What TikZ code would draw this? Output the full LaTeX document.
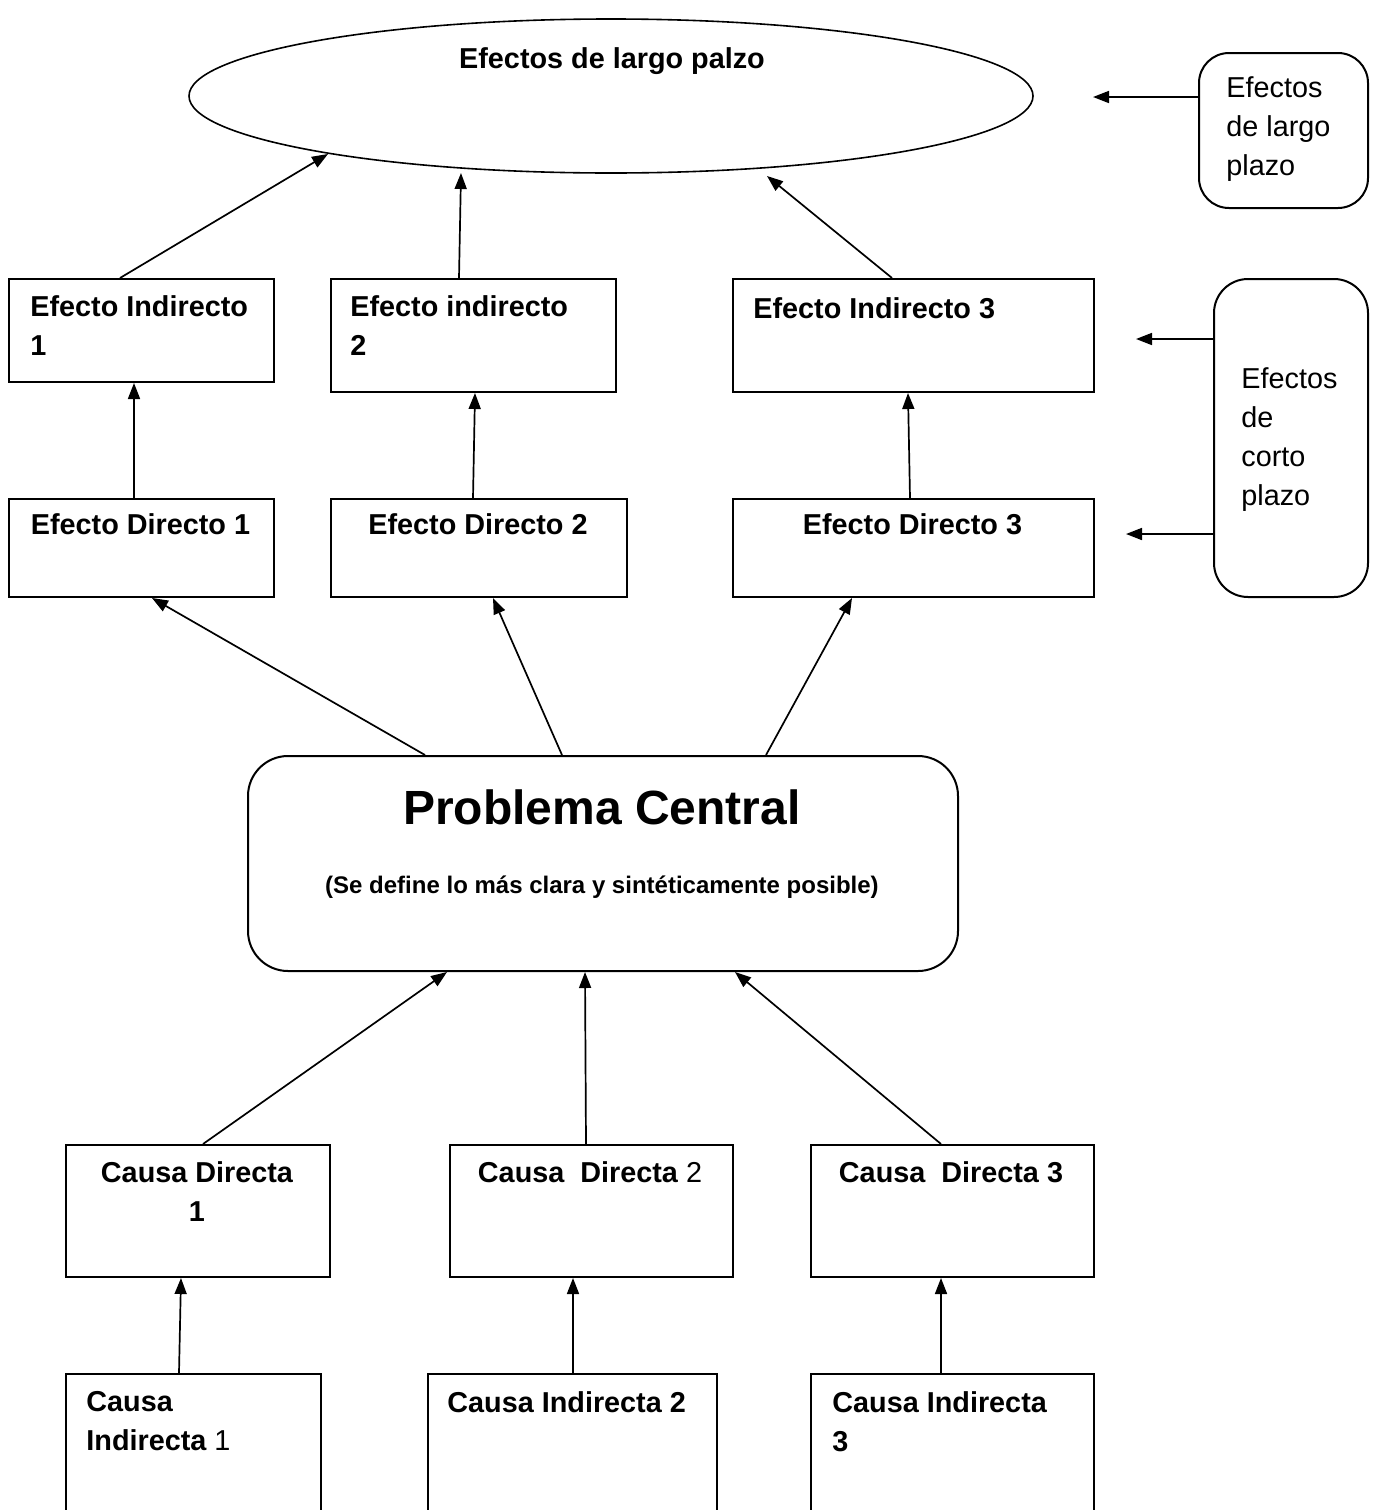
\documentclass[tikz,border=0pt]{standalone}
\usepackage{fontspec}
\setmainfont{Liberation Sans}
\usetikzlibrary{arrows.meta,shapes.geometric}
\begin{document}
\begin{tikzpicture}[x=0.5pt,y=-0.5pt,
  bx/.style 2 args={draw, line width=1pt, rectangle, minimum width=#1*0.5pt, minimum height=#2*0.5pt, inner sep=0pt, anchor=north west},
  rbx/.style={rounded corners=#1},
  txt/.style={inner sep=0pt, align=left, font=\fontsize{14.4}{19.5}\selectfont\bfseries},
  txtn/.style={inner sep=0pt, align=left, font=\fontsize{14.4}{19.5}\selectfont},
  arr/.style={line width=0.85pt, -{Triangle[length=8pt,width=6pt]}}
]
\useasboundingbox (0,0) rectangle (1378,1510);
\clip (0,0) rectangle (1378,1510);

% ellipse
\node[draw, line width=0.8pt, ellipse, minimum width=422pt, minimum height=77pt, inner sep=0pt] (el) at (611,96) {};
\node[txt, anchor=north] (elt) at (612,47) {Efectos de largo palzo};

% right rounded boxes
\node[bx={169}{155}, rbx=15pt] (rl) at (1198,52) {};
\node[txtn, anchor=north west] (rlt) at (1226,76) {Efectos\\de largo\\plazo};
\node[bx={154}{318}, rbx=17pt] (rc) at (1213,278) {};
\node[txtn, anchor=north west] (rct) at (1241,367) {Efectos\\de\\corto\\plazo};
\coordinate (t1) at (1093,97);
\coordinate (t2) at (1136,339);
\coordinate (t3) at (1126,534);
\draw[arr] (rl.west |- t1) -- (t1);
\draw[arr] (rc.west |- t2) -- (t2);
\draw[arr] (rc.west |- t3) -- (t3);

% effects
\node[bx={265}{103}] (ei1) at (8,278) {};
\node[bx={285}{113}] (ei2) at (330,278) {};
\node[bx={361}{113}] (ei3) at (732,278) {};
\node[txt, anchor=north west] (ei1t) at (30,295) {Efecto Indirecto\\1};
\node[txt, anchor=north west] (ei2t) at (350,295) {Efecto indirecto\\2};
\node[txt, anchor=north west] (ei3t) at (753,297) {Efecto Indirecto 3};

\node[bx={265}{98}] (ed1) at (8,498) {};
\node[bx={296}{98}] (ed2) at (330,498) {};
\node[bx={361}{98}] (ed3) at (732,498) {};
\node[txt, anchor=north] (ed1t) at (140.5,513) {Efecto Directo 1};
\node[txt, anchor=north] (ed2t) at (478,513) {Efecto Directo 2};
\node[txt, anchor=north] (ed3t) at (912.5,513) {Efecto Directo 3};

% central problem
\node[bx={710}{215}, rbx=20pt] (pc) at (247,755) {};
\node[inner sep=0pt, anchor=north, font=\fontsize{24}{28}\selectfont\bfseries] (pct) at (602,789) {Problema Central};
\node[inner sep=0pt, anchor=north, font=\fontsize{12}{14}\selectfont\bfseries] (pcs) at (602,875) {(Se define lo más clara y sintéticamente posible)};

% causes
\node[bx={264}{132}] (cd1) at (65,1144) {};
\node[bx={283}{132}] (cd2) at (449,1144) {};
\node[bx={283}{132}] (cd3) at (810,1144) {};
\node[txt, anchor=north, align=center] (cd1t) at (197,1161) {Causa Directa\\1};
\node[txt, anchor=north] (cd2t) at (590,1161) {Causa\ \ Directa\mdseries{} 2};
\node[txt, anchor=north] (cd3t) at (951,1161) {Causa\ \ Directa 3};

\node[bx={255}{170}] (ci1) at (65,1373) {};
\node[bx={289}{170}] (ci2) at (427,1373) {};
\node[bx={283}{170}] (ci3) at (810,1373) {};
\node[txt, anchor=north west] (ci1t) at (86,1391) {Causa\\Indirecta\mdseries{} 1};
\node[txt, anchor=north west] (ci2t) at (447,1391) {Causa Indirecta 2};
\node[txt, anchor=north west] (ci3t) at (832,1391) {Causa Indirecta\\3};

% connectors
\draw[arr] ([xshift=63pt]ed1.north west) -- ([xshift=63pt]ei1.south west);
\draw[arr] ([xshift=71.5pt]ed2.north west) -- ([xshift=72.5pt]ei2.south west);
\draw[arr] ([xshift=89pt]ed3.north west) -- ([xshift=88pt]ei3.south west);

\draw[arr] ([xshift=56pt]ei1.north west) -- ([xshift=-141.5pt,yshift=-29pt]el.center);
\draw[arr] ([xshift=64.5pt]ei2.north west) -- ([xshift=-75pt,yshift=-38.5pt]el.center);
\draw[arr] ([xshift=80pt]ei3.north west) -- ([xshift=78pt,yshift=-40pt]el.center);

\draw[arr] ([xshift=89pt]pc.north west) -- ([xshift=72pt]ed1.south west);
\draw[arr] ([xshift=157.5pt]pc.north west) -- ([xshift=81.5pt]ed2.south west);
\draw[arr] ([xshift=259.5pt]pc.north west) -- ([xshift=60pt]ed3.south west);

\draw[arr] ([xshift=69pt]cd1.north west) -- ([xshift=100pt]pc.south west);
\draw[arr] ([xshift=68.5pt]cd2.north west) -- ([xshift=169pt]pc.south west);
\draw[arr] ([xshift=65.5pt]cd3.north west) -- ([xshift=244pt]pc.south west);

\draw[arr] ([xshift=57pt]ci1.north west) -- ([xshift=58pt]cd1.south west);
\draw[arr] ([xshift=73pt]ci2.north west) -- ([xshift=62pt]cd2.south west);
\draw[arr] ([xshift=65.5pt]ci3.north west) -- ([xshift=65.5pt]cd3.south west);
\end{tikzpicture}
\end{document}
